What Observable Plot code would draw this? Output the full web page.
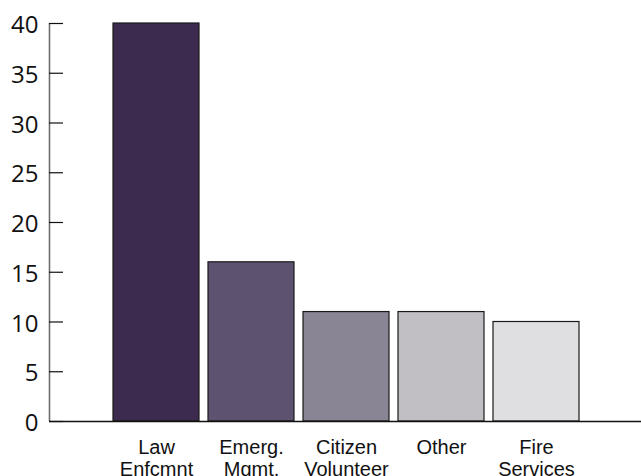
<!DOCTYPE html>
<html><head><meta charset="utf-8">
<script src="https://cdn.jsdelivr.net/npm/d3@7"></script>
<script src="https://cdn.jsdelivr.net/npm/@observablehq/plot@0.6"></script>
<style>body{margin:0;background:#fff;overflow:hidden}</style>
</head><body><div id="chart"></div>
<script>
const categories = ["Law Enfcmnt", "Emerg. Mgmt.", "Citizen Volunteer", "Other", "Fire Services"];
const tickLabels = ["Law\nEnfcmnt", "Emerg.\nMgmt.", "Citizen\nVolunteer", "Other", "Fire\nServices"];
const values = [40, 16, 11, 11, 10];
const colors = ["#3c2b4f", "#5d5370", "#8a8595", "#c1bfc4", "#dfdfe1"];
const yTicks = [0, 5, 10, 15, 20, 25, 30, 35, 40];

const data = categories.map((c, i) => ({category: c, value: values[i]}));

const W = 641, ML = 49, MR = 0;

const chart = Plot.plot({
  width: W, height: 476,
  marginLeft: ML, marginRight: MR, marginTop: 23, marginBottom: 55,
  x: {domain: categories, range: [104, 588], padding: 0.0947, label: null},
  y: {domain: [0, 40], label: null},
  color: {domain: categories, range: colors},
  marks: [
    Plot.barY(data, {x: "category", y: "value", fill: "category", stroke: "#1a1a1a", strokeWidth: 1.2}),
    Plot.ruleX([0], {x: null, y1: 0, y2: 40, dx: ML - (ML + W - MR) / 2, stroke: "#6e6e6e", strokeWidth: 1.6}),
    Plot.ruleY([0], {stroke: "#111", strokeWidth: 1.5}),
    Plot.ruleY(yTicks, {stroke: "#111", strokeWidth: 1.2, insetRight: W - ML - MR - 14}),
    Plot.axisY(yTicks, {tickSize: 0, tickPadding: 11, fontSize: 24, fontFamily: "Open Sans", fill: "#111", dy: 2}),
    Plot.axisX({tickSize: 0, tickPadding: 17, fontSize: 20, fontFamily: "Liberation Sans", fill: "#111", lineHeight: 1.1,
      tickFormat: d => tickLabels[categories.indexOf(d)]})
  ]
});
document.getElementById("chart").append(chart);
</script>
</body></html>
